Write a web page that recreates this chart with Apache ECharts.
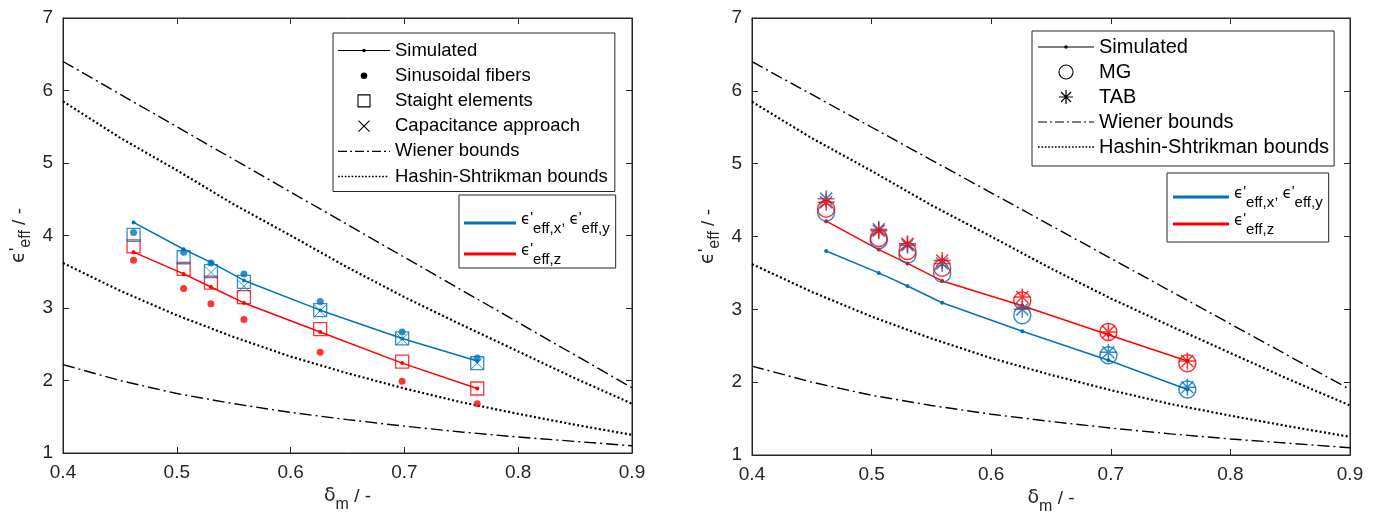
<!DOCTYPE html>
<html>
<head>
<meta charset="utf-8">
<script src="https://cdn.jsdelivr.net/npm/echarts@6/dist/echarts.min.js"></script>
<style>
  html, body { margin: 0; padding: 0; background: #fff; }
  #chart { width: 1379px; height: 525px; }
</style>
</head>
<body>
<div id="chart"></div>
<script>
// ---- data ----
const dm = [0.462, 0.506, 0.530, 0.559, 0.626, 0.698, 0.764];

// left panel
const simXY_L = [4.18, 3.81, 3.63, 3.38, 2.97, 2.58, 2.27];
const simZ_L  = [3.77, 3.47, 3.29, 3.07, 2.67, 2.24, 1.89];
const sinXY   = [4.04, 3.77, 3.62, 3.47, 3.09, 2.67, 2.31];
const sinZ    = [3.66, 3.27, 3.06, 2.84, 2.39, 1.99, 1.68];
const strXY   = [4.01, 3.70, 3.51, 3.36, 2.97, 2.58, 2.24];
const strZ    = [3.85, 3.54, 3.35, 3.15, 2.71, 2.26, 1.89];
const capDm   = [0.530, 0.559, 0.626, 0.698, 0.764];
const capXY   = [3.49, 3.30, 2.96, 2.57, 2.24];

// right panel
const simXY_R = [3.80, 3.50, 3.32, 3.09, 2.70, 2.30, 1.90];
const simZ_R  = [4.21, 3.82, 3.63, 3.39, 3.05, 2.65, 2.29];
const mgXY    = [4.33, 3.95, 3.75, 3.49, 2.92, 2.37, 1.90];
const mgZ     = [4.38, 3.98, 3.80, 3.57, 3.12, 2.69, 2.26];
const tabXY   = [4.52, 4.10, 3.88, 3.63, 3.00, 2.41, 1.93];
const tabZ    = [4.47, 4.08, 3.90, 3.67, 3.17, 2.69, 2.29];

// bounds (same in both panels)
const bDm       = [0.40, 0.45, 0.50, 0.55, 0.60, 0.65, 0.70, 0.75, 0.80, 0.85, 0.90];
const wienerUp  = [6.40, 5.95, 5.50, 5.05, 4.60, 4.15, 3.70, 3.25, 2.80, 2.35, 1.90];
const hsUp      = [5.85, 5.35, 4.90, 4.43, 4.00, 3.56, 3.15, 2.77, 2.40, 2.03, 1.68];
const hsLow     = [3.62, 3.24, 2.90, 2.60, 2.33, 2.10, 1.89, 1.70, 1.54, 1.39, 1.25];
const wienerLow = [2.22, 2.00, 1.82, 1.68, 1.56, 1.46, 1.37, 1.29, 1.22, 1.16, 1.10];

// ---- styling ----
const BLUE = '#0072BD', RED = '#FF0000', INK = '#262626';
const FONT = 'Liberation Sans, Arial, sans-serif';
const pts = (xs, ys) => xs.map((x, i) => [x, ys[i]]);

// a stroke drawn as a filled quad (legend icons are filled paths)
function seg(x1, y1, x2, y2, hw) {
  const dx = x2 - x1, dy = y2 - y1, L = Math.hypot(dx, dy);
  const nx = -dy / L * hw, ny = dx / L * hw;
  const p = [[x1 + nx, y1 + ny], [x2 + nx, y2 + ny], [x2 - nx, y2 - ny], [x1 - nx, y1 - ny]];
  return 'M' + p.map(q => q[0].toFixed(2) + ',' + q[1].toFixed(2)).join('L') + 'Z';
}
function dot(cx, cy, r, sweep) {
  return 'M' + (cx - r) + ',' + cy + 'a' + r + ',' + r + ' 0 1,' + sweep + ' ' + 2 * r + ',0a' + r + ',' + r + ' 0 1,' + sweep + ' ' + (-2 * r) + ',0Z';
}
function icons(w) {
  const c = w / 2, box = 'M0,0L0,0ZM' + w + ',16L' + w + ',16Z';
  let dd = '', ds = '';
  for (let x = 0; x < w; x += 17) {
    dd += seg(x, 8, Math.min(x + 9, w), 8, 0.6);
    if (x + 14 <= w) dd += seg(x + 12, 8, x + 14, 8, 0.6);
  }
  for (let x = 0; x + 1.6 <= w; x += 3.4) ds += seg(x, 8, x + 1.7, 8, 0.85);
  const s = 6, h = 0.55;
  return {
    sim: 'path://' + box + seg(0, 8, w, 8, 0.6) + dot(c, 8, 1.8, 0),
    sin: 'path://' + box + dot(c, 8, 3.3, 0),
    str: 'path://' + box + seg(c - s - h, 2, c + s + h, 2, h) + seg(c + s, 2 - h, c + s, 14 + h, h) +
         seg(c + s + h, 14, c - s - h, 14, h) + seg(c - s, 14 + h, c - s, 2 - h, h),
    cap: 'path://' + box + seg(c - 5.5, 2.5, c + 5.5, 13.5, 0.55) + seg(c + 5.5, 2.5, c - 5.5, 13.5, 0.55),
    wie: 'path://' + box + dd,
    hs:  'path://' + box + ds,
    mg:  'path://' + box + dot(c, 8, 7.6, 1) + dot(c, 8, 6.5, 0),
    tab: 'path://' + box + seg(c - 7, 8, c + 7, 8, 0.6) + seg(c, 1, c, 15, 0.6) +
         seg(c - 5, 3, c + 5, 13, 0.6) + seg(c + 5, 3, c - 5, 13, 0.6),
    thick: 'path://' + box + seg(0, 8, w, 8, 1.4)
  };
}
const icL = icons(52), icR = icons(56);

const richBase = (fs, sub) => ({
  p: { fontSize: fs, fontFamily: FONT, color: '#000', verticalAlign: 'top', padding: [0, 0, 0, 0] },
  e: { fontSize: fs, fontFamily: 'DejaVu Sans', color: '#000', verticalAlign: 'top', padding: [3, 0, 0, 0] },
  s: { fontSize: sub, fontFamily: FONT, color: '#000', verticalAlign: 'top', padding: [11, 0, 0, 0] },
  n: { fontSize: fs, fontFamily: FONT, color: '#000', verticalAlign: 'top', padding: [3, 0, 0, 0] }
});
const eps = sub => '{e|\u03f5}{p|\'}{s|' + sub + '}';
const legendNames = {
  exy: eps('eff,x') + '{n|, }' + eps('eff,y'),
  ez: eps('eff,z')
};

function bounds(xi, yi) {
  const base = { type: 'line', xAxisIndex: xi, yAxisIndex: yi, symbol: 'none', color: '#000', z: 2 };
  const dd = { color: '#000', width: 1.4, type: [12, 4, 2, 4] };
  const dt = { color: '#000', width: 2.2, type: [2, 2.4] };
  return [
    Object.assign({ name: 'Wiener bounds', data: pts(bDm, wienerUp), lineStyle: dd }, base),
    Object.assign({ name: 'Wiener bounds', data: pts(bDm, wienerLow), lineStyle: dd }, base),
    Object.assign({ name: 'Hashin-Shtrikman bounds', data: pts(bDm, hsUp), lineStyle: dt }, base),
    Object.assign({ name: 'Hashin-Shtrikman bounds', data: pts(bDm, hsLow), lineStyle: dt }, base)
  ];
}
function simLine(name, ys, col, xi, yi) {
  return { name, type: 'line', xAxisIndex: xi, yAxisIndex: yi, data: pts(dm, ys), color: col,
    symbol: 'circle', symbolSize: 4, lineStyle: { color: col, width: 1.5 }, itemStyle: { color: col }, z: 3 };
}
function marks(name, xs, ys, col, symbol, size, filled, xi, yi, bw) {
  return { name, type: 'scatter', xAxisIndex: xi, yAxisIndex: yi, data: pts(xs, ys), symbol, symbolSize: size,
    itemStyle: filled ? { color: col } : { color: 'transparent', borderColor: col, borderWidth: bw || 1.3 }, z: 4 };
}
const dummy = (name, col) => ({ name, type: 'line', data: [], color: col, xAxisIndex: 0, yAxisIndex: 0 });

const X_PATH = 'path://M0,0L10,10M10,0L0,10';
const STAR_PATH = 'path://M0,5L10,5M5,0L5,10M1.46,1.46L8.54,8.54M8.54,1.46L1.46,8.54';

function xAxes(gi) {
  const common = { type: 'value', gridIndex: gi, min: 0.4, max: 0.9, interval: 0.1,
    axisLine: { lineStyle: { color: INK, width: 1 } }, splitLine: { show: false },
    axisTick: { inside: true, length: 6, lineStyle: { color: INK } } };
  return [
    Object.assign({}, common, { position: 'bottom',
      axisLabel: { color: INK, fontSize: 19, fontFamily: FONT, margin: 10, formatter: v => v.toFixed(1) },
      name: '{d|\u03b4}{s|m}{n| / -}', nameLocation: 'middle', nameGap: 30,
      nameTextStyle: { rich: {
        d: { fontSize: 19, fontFamily: 'DejaVu Sans', color: INK, verticalAlign: 'top', padding: [0, 0, 0, 0] },
        s: { fontSize: 16, fontFamily: FONT, color: INK, verticalAlign: 'top', padding: [10, 0, 0, 0] },
        n: { fontSize: 19, fontFamily: FONT, color: INK, verticalAlign: 'top', padding: [0, 0, 0, 0] } } } }),
    Object.assign({}, common, { position: 'top', axisLabel: { show: false } })
  ];
}
function yAxes(gi) {
  const common = { type: 'value', gridIndex: gi, min: 1, max: 7, interval: 1,
    axisLine: { lineStyle: { color: INK, width: 1 } }, splitLine: { show: false },
    axisTick: { inside: true, length: 6, lineStyle: { color: INK } } };
  const rich = richBase(19, 16);
  for (const k in rich) rich[k].color = INK;
  return [
    Object.assign({}, common, { position: 'left',
      axisLabel: { color: INK, fontSize: 19, fontFamily: FONT, margin: 10 },
      name: eps('eff') + '{n| / -}', nameLocation: 'middle', nameGap: 29,
      nameTextStyle: { rich } }),
    Object.assign({}, common, { position: 'right', axisLabel: { show: false } })
  ];
}

function legendBox(left, top, items, icons, gap, padding, w, fs) {
  return {
    left, top, orient: 'vertical', padding, itemGap: gap, itemWidth: w, itemHeight: 16, itemTextGap: 4,
    backgroundColor: '#fff', borderColor: INK, borderWidth: 1, borderRadius: 0, selectedMode: false,
    itemStyle: { borderWidth: 0 },
    textStyle: { fontSize: fs, fontFamily: FONT, color: '#000', rich: richBase(15, 15) },
    formatter: n => legendNames[n] || n,
    data: items.map(([name, key]) => ({ name, icon: icons[key] }))
  };
}

const chart = echarts.init(document.getElementById('chart'), null, { renderer: 'canvas' });
chart.setOption({
  animation: false,
  backgroundColor: '#fff',
  grid: [
    { left: 63, top: 18, width: 569, height: 435, show: true, borderColor: INK, borderWidth: 1 },
    { left: 752, top: 18, width: 598, height: 437, show: true, borderColor: INK, borderWidth: 1 }
  ],
  xAxis: [...xAxes(0), ...xAxes(1)],
  yAxis: [...yAxes(0), ...yAxes(1)],
  legend: [
    legendBox(333, 33, [['Simulated', 'sim'], ['Sinusoidal fibers', 'sin'], ['Staight elements', 'str'],
      ['Capacitance approach', 'cap'], ['Wiener bounds', 'wie'], ['Hashin-Shtrikman bounds', 'hs']],
      icL, 6.2, [8, 7, 5.5, 5], 52, 18.5),
    legendBox(459, 195, [['exy', 'thick'], ['ez', 'thick']], icL, 5, [15, 6, 1, 5], 52, 18.5),
    legendBox(1032, 31, [['Simulated', 'sim'], ['MG', 'mg'], ['TAB', 'tab'],
      ['Wiener bounds', 'wie'], ['Hashin-Shtrikman bounds', 'hs']], icR, 5, [6, 5, 9, 6], 56, 20),
    legendBox(1167, 173, [['exy', 'thick'], ['ez', 'thick']], icR, 1, [11, 6, 5, 6], 56, 20)
  ],
  series: [
    ...bounds(0, 0),
    simLine('L sim xy', simXY_L, BLUE, 0, 0),
    simLine('L sim z', simZ_L, RED, 0, 0),
    marks('L sin xy', dm, sinXY, BLUE, 'circle', 7, true, 0, 0),
    marks('L sin z', dm, sinZ, RED, 'circle', 7, true, 0, 0),
    marks('L str z', dm, strZ, RED, 'rect', 13, false, 0, 0),
    marks('L str xy', dm, strXY, BLUE, 'rect', 13, false, 0, 0),
    marks('L cap xy', capDm, capXY, BLUE, X_PATH, 12, false, 0, 0, 1),

    ...bounds(2, 2),
    simLine('R sim xy', simXY_R, BLUE, 2, 2),
    simLine('R sim z', simZ_R, RED, 2, 2),
    marks('R mg xy', dm, mgXY, BLUE, 'circle', 17, false, 2, 2, 1.5),
    marks('R tab xy', dm, tabXY, BLUE, STAR_PATH, 17, false, 2, 2, 1.5),
    marks('R mg z', dm, mgZ, RED, 'circle', 17, false, 2, 2, 1.5),
    marks('R tab z', dm, tabZ, RED, STAR_PATH, 17, false, 2, 2, 1.5),

    dummy('Simulated', '#000'), dummy('Sinusoidal fibers', '#000'), dummy('Staight elements', '#000'),
    dummy('Capacitance approach', '#000'), dummy('MG', '#000'), dummy('TAB', '#000'),
    dummy('exy', BLUE), dummy('ez', RED)
  ]
});
</script>
</body>
</html>
